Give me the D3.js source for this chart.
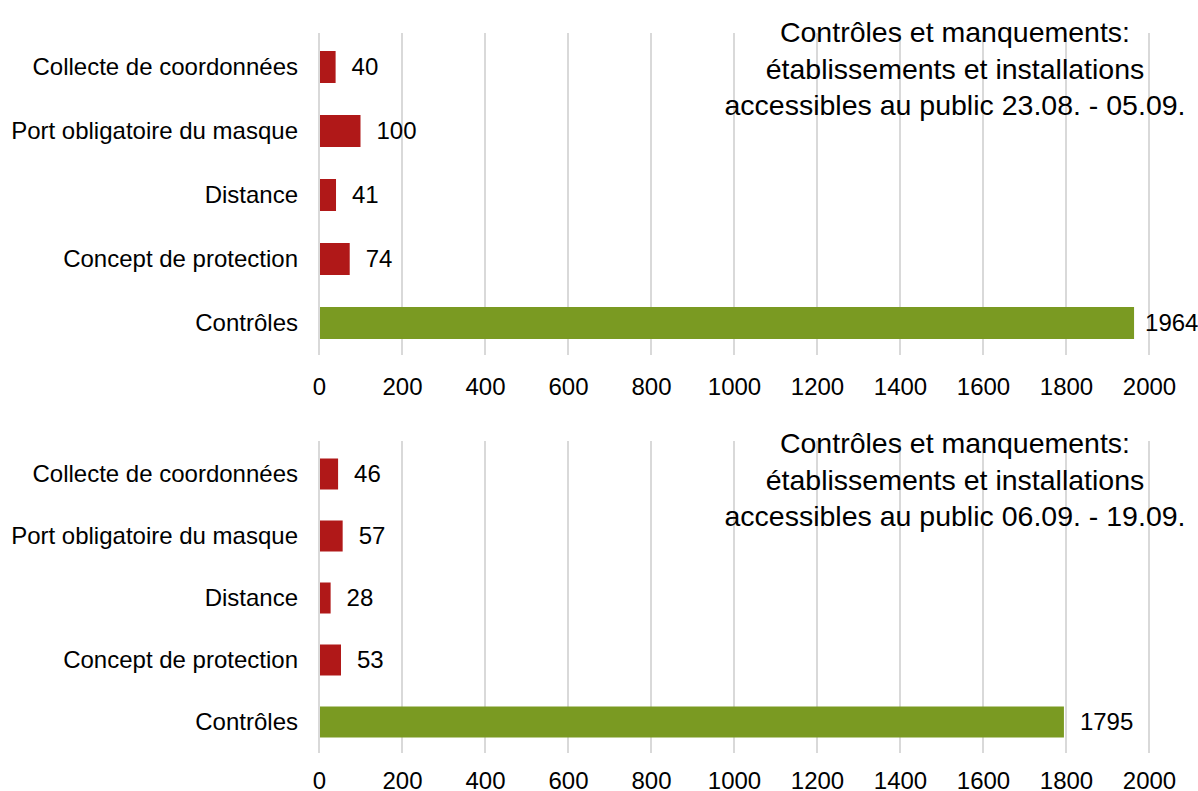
<!DOCTYPE html>
<html>
<head>
<meta charset="utf-8">
<script src="https://cdn.jsdelivr.net/npm/d3@7"></script>
<style>
  body { margin: 0; background: #fff; }
  text { font-family: "Liberation Sans", Arial, sans-serif; fill: #000; }
</style>
</head>
<body>
<div id="graph"></div>
<script>
var categories = ["Collecte de coordonnées", "Port obligatoire du masque", "Distance", "Concept de protection", "Contrôles"]
var values1 = [40, 100, 41, 74, 1964]
var values2 = [46, 57, 28, 53, 1795]
var titles1 = ["Contrôles et manquements:", "établissements et installations", "accessibles au public 23.08. - 05.09."]
var titles2 = ["Contrôles et manquements:", "établissements et installations", "accessibles au public 06.09. - 19.09."]
var xTicks = [0, 200, 400, 600, 800, 1000, 1200, 1400, 1600, 1800, 2000]

var width = 1198, height = 791
var red = "#b01818", green = "#7a9a22"

var svg = d3.select("#graph").append("svg")
  .attr("width", width)
  .attr("height", height)

var xScale = d3.scaleLinear().domain([0, 2000]).range([319, 1149])

function drawPanel(values, titles, top, bottom, axisY, titleY) {
  var yScale = d3.scaleBand()
    .domain(categories)
    .range([top, bottom])
    .paddingInner(0.5)
    .paddingOuter(0.25)

  var g = svg.append("g")

  // vertical grid
  g.selectAll(".grid")
    .data(xTicks)
    .enter().append("line")
      .attr("x1", function(d) { return xScale(d) })
      .attr("x2", function(d) { return xScale(d) })
      .attr("y1", top - 2)
      .attr("y2", bottom)
      .attr("stroke", "#d9d9d9")
      .attr("stroke-width", 2)

  // title
  var t = g.append("text")
    .attr("text-anchor", "middle")
    .attr("font-size", 28.5)
  titles.forEach(function(line, i) {
    t.append("tspan")
      .attr("x", 955)
      .attr("y", titleY + i * 36.5)
      .text(line)
  })

  // bars
  g.selectAll(".bar")
    .data(values)
    .enter().append("rect")
      .attr("x", xScale(0) + 1)
      .attr("y", function(d, i) { return yScale(categories[i]) })
      .attr("width", function(d) { return xScale(d) - xScale(0) - 1 })
      .attr("height", yScale.bandwidth())
      .attr("fill", function(d, i) { return i == categories.length - 1 ? green : red })

  // value labels
  g.selectAll(".val")
    .data(values)
    .enter().append("text")
      .attr("x", function(d) { return xScale(d) + (d > 1900 ? 11 : 16) })
      .attr("y", function(d, i) { return yScale(categories[i]) + yScale.bandwidth() / 2 })
      .attr("dy", "0.35em")
      .attr("font-size", 24)
      .text(function(d) { return d })

  // category labels
  g.selectAll(".cat")
    .data(categories)
    .enter().append("text")
      .attr("x", 298)
      .attr("y", function(d) { return yScale(d) + yScale.bandwidth() / 2 })
      .attr("dy", "0.35em")
      .attr("text-anchor", "end")
      .attr("font-size", 24)
      .text(function(d) { return d })

  // x axis
  var ax = g.append("g")
    .attr("transform", "translate(0," + axisY + ")")
    .call(d3.axisBottom(xScale).tickValues(xTicks).tickFormat(d3.format("d")).tickSize(0).tickPadding(0))
  ax.select(".domain").remove()
  ax.selectAll("text")
    .attr("font-size", 24)
    .attr("font-family", "Liberation Sans, Arial, sans-serif")
    .attr("fill", "#000")
    .attr("dy", "0.35em")
    .attr("y", 0)
}

drawPanel(values1, titles1, 35, 355, 387, 42)
drawPanel(values2, titles2, 443, 753, 781, 453)
</script>
</body>
</html>
